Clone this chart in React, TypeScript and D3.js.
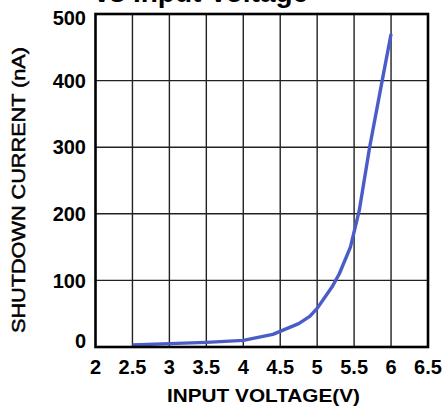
import React, { useEffect, useRef } from 'react';
import * as d3 from 'd3';

// input voltage (V) and shutdown current (nA)
const voltage = [2.5, 3, 3.5, 4, 4.4, 4.75, 4.9, 5, 5.2, 5.3, 5.45, 5.57, 5.71, 5.88, 6];
const current = [3, 5, 7, 10, 19, 35, 46, 58, 90, 110, 150, 205, 300, 400, 470];
const xTicks = [2, 2.5, 3, 3.5, 4, 4.5, 5, 5.5, 6, 6.5];
const yTicks = [0, 100, 200, 300, 400, 500];

const W = 445;
const H = 408;
const margin = { top: 14, right: 17, bottom: 61, left: 95.5 };

const App: React.FC = () => {
	const svgRef = useRef<SVGSVGElement>(null);

	useEffect(() => {
		document.body.style.margin = '0';
		const root = d3.select(svgRef.current);
		root.selectAll('*').remove();
		const font = '"Liberation Sans", Arial, sans-serif';

		const x = d3.scaleLinear().domain([2, 6.5]).range([margin.left, W - margin.right]);
		const y = d3.scaleLinear().domain([0, 500]).range([H - margin.bottom, margin.top]);

		// title, clipped by the top edge like in the source image
		root
			.append('text')
			.attr('x', 94)
			.attr('y', 2)
			.style('font-family', font)
			.style('font-weight', 'bold')
			.style('font-size', '28px')
			.text('vs Input Voltage');

		// grid
		const grid = root.append('g').attr('stroke', '#222').attr('stroke-width', 1.4);
		grid
			.selectAll('line.v')
			.data(xTicks.slice(1, -1))
			.enter()
			.append('line')
			.attr('x1', (d) => x(d))
			.attr('x2', (d) => x(d))
			.attr('y1', y(0))
			.attr('y2', y(500));
		grid
			.selectAll('line.h')
			.data(yTicks.slice(1, -1))
			.enter()
			.append('line')
			.attr('x1', x(2))
			.attr('x2', x(6.5))
			.attr('y1', (d) => y(d))
			.attr('y2', (d) => y(d));

		// curve
		const pts = voltage.map((v, i) => [v, current[i]] as [number, number]);
		const line = d3
			.line<[number, number]>()
			.x((d) => x(d[0]))
			.y((d) => y(d[1]));
		root
			.append('path')
			.attr('d', line(pts) as string)
			.attr('fill', 'none')
			.attr('stroke', '#4a5cc8')
			.attr('stroke-width', 3.4)
			.attr('stroke-linejoin', 'round');

		// frame
		root
			.append('rect')
			.attr('x', x(2))
			.attr('y', y(500))
			.attr('width', x(6.5) - x(2))
			.attr('height', y(0) - y(500))
			.attr('fill', 'none')
			.attr('stroke', '#000')
			.attr('stroke-width', 2.6);

		// tick labels
		const yShift = (d: number) => (d === 0 ? -6 : d === 500 ? 3.5 : 0);
		root
			.append('g')
			.selectAll('text')
			.data(yTicks)
			.enter()
			.append('text')
			.attr('x', 86)
			.attr('y', (d) => y(d) + yShift(d))
			.attr('dy', '0.36em')
			.attr('text-anchor', 'end')
			.style('font-family', font)
			.style('font-weight', 'bold')
			.style('font-size', '20px')
			.text((d) => String(d));

		root
			.append('g')
			.selectAll('text')
			.data(xTicks)
			.enter()
			.append('text')
			.attr('x', (d) => x(d))
			.attr('y', 373.5)
			.attr('text-anchor', 'middle')
			.style('font-family', font)
			.style('font-weight', 'bold')
			.style('font-size', '20px')
			.text((d) => String(d));

		// axis titles
		root
			.append('text')
			.attr('x', 263.5)
			.attr('y', 402)
			.attr('text-anchor', 'middle')
			.style('font-family', font)
			.style('font-weight', 'bold')
			.style('font-size', '19px')
			.attr('textLength', 193)
			.attr('lengthAdjust', 'spacingAndGlyphs')
			.text('INPUT VOLTAGE(V)');

		root
			.append('text')
			.attr('transform', 'translate(25,190) rotate(-90)')
			.attr('text-anchor', 'middle')
			.style('font-family', font)
			.style('font-size', '19px')
			.attr('stroke', '#000')
			.attr('stroke-width', 0.5)
			.attr('textLength', 286)
			.attr('lengthAdjust', 'spacingAndGlyphs')
			.text('SHUTDOWN CURRENT (nA)');
	}, []);

	return <svg ref={svgRef} width={W} height={H} style={{ display: 'block' }} />;
};

export default App;
